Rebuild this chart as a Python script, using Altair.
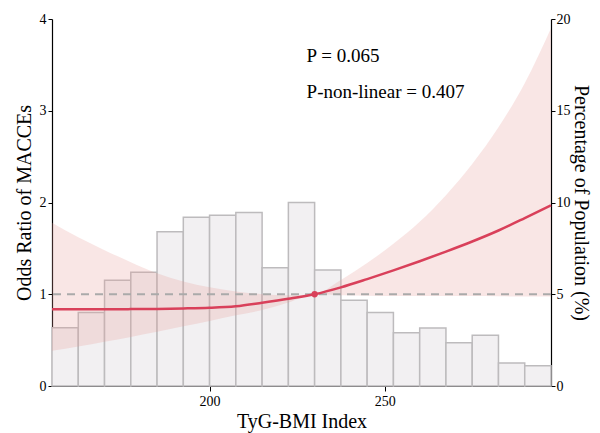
import altair as alt
import pandas as pd

# Histogram (percentage of population), bins of width 7.5 starting at 155
bin_start = [155 + 7.5 * i for i in range(19)]
pct = [3.18, 4.0, 5.76, 6.2, 8.4, 9.2, 9.3, 9.45, 6.45, 10.0,
       6.32, 4.67, 4.0, 2.9, 3.16, 2.36, 2.76, 1.25, 1.1]

# Restricted cubic spline: OR with 95% CI
xs = [155, 162.5, 170, 177.5, 185, 192.5, 200, 207.5, 215, 222.5,
      230, 237.5, 245, 252.5, 260, 267.5, 275, 282.5, 290, 297.5]
odds = [0.836, 0.836, 0.837, 0.838, 0.840, 0.845, 0.853, 0.87, 0.908, 0.95,
        1.0, 1.075, 1.165, 1.26, 1.36, 1.465, 1.575, 1.695, 1.83, 1.97]
upper = [1.78, 1.62, 1.48, 1.35, 1.23, 1.14, 1.076, 1.03, 1.0, 0.99,
         1.0, 1.155, 1.34, 1.55, 1.79, 2.08, 2.42, 2.82, 3.3, 3.9]
lower = [0.385, 0.43, 0.483, 0.535, 0.59, 0.65, 0.708, 0.77, 0.828, 0.91,
         1.0, 0.99, 0.985, 0.98, 0.98, 0.98, 0.98, 0.978, 0.975, 0.975]

ref_x = [230]
ref_y = [1.0]

ann_x = [227.7, 227.7]
ann_y = [3.6, 3.2]
ann_text = ["P = 0.065", "P-non-linear = 0.407"]

FONT = "Liberation Serif, Times New Roman, Times, DejaVu Serif, serif"

hist = pd.DataFrame({"start": bin_start,
                     "end": [s + 7.5 for s in bin_start],
                     "pct": pct,
                     "base": [0] * len(pct)})
curve = pd.DataFrame({"x": xs, "or": odds, "lo": lower, "hi": upper})
ref = pd.DataFrame({"x": ref_x, "y": ref_y})
ann = pd.DataFrame({"x": ann_x, "y": ann_y, "t": ann_text})

xscale = alt.Scale(domain=[155, 297.5], nice=False, zero=False)
xaxis = alt.Axis(values=[200, 250], title="TyG-BMI Index", tickSize=5,
                 titlePadding=3, labelPadding=3, format="d")
yscale = alt.Scale(domain=[0, 4], nice=False)

bars = alt.Chart(hist).mark_bar(
    fill="#f2f0f2", stroke="#bdbbbd", strokeWidth=1.5
).encode(
    x=alt.X("start:Q", scale=xscale, axis=xaxis),
    x2="end:Q",
    y=alt.Y("pct:Q", scale=alt.Scale(domain=[0, 20], nice=False),
            axis=alt.Axis(orient="right", values=[0, 5, 10, 15, 20],
                          title="Percentage of Population (%)", format="d",
                          tickSize=4, labelPadding=1, titlePadding=0)),
    y2="base:Q",
)

band = alt.Chart(curve).mark_area(
    color="#e89a98", opacity=0.25, interpolate="monotone"
).encode(
    x=alt.X("x:Q", scale=xscale, axis=xaxis),
    y=alt.Y("lo:Q", scale=yscale,
            axis=alt.Axis(orient="left", values=[0, 1, 2, 3, 4], format="d",
                          title="Odds Ratio of MACCEs", tickSize=4,
                          labelPadding=2, titlePadding=5)),
    y2="hi:Q",
)

rule = alt.Chart(ref).mark_rule(
    color="#aaaaaa", strokeWidth=2, strokeDash=[8, 6]
).encode(y=alt.Y("y:Q", scale=yscale))

line = alt.Chart(curve).mark_line(
    color="#d9405a", strokeWidth=2.5, interpolate="monotone"
).encode(
    x=alt.X("x:Q", scale=xscale),
    y=alt.Y("or:Q", scale=yscale),
)

point = alt.Chart(ref).mark_point(
    filled=True, color="#d9405a", size=40, opacity=1
).encode(
    x=alt.X("x:Q", scale=xscale),
    y=alt.Y("y:Q", scale=yscale),
)

text = alt.Chart(ann).mark_text(
    align="left", baseline="middle", font=FONT, fontSize=19, color="#000000"
).encode(
    x=alt.X("x:Q", scale=xscale),
    y=alt.Y("y:Q", scale=yscale),
    text="t:N",
)

left = alt.layer(band, rule, line, point, text)

chart = alt.layer(bars, left).resolve_scale(y="independent").properties(
    width=499, height=367,
    autosize=alt.AutoSizeParams(type="none"),
    padding={"left": 44, "top": 11, "right": 41, "bottom": 47},
).configure_view(stroke=None).configure_axis(
    grid=False,
    domainColor="#000000", domainWidth=1.2,
    tickColor="#000000",
    labelColor="#000000", labelFont=FONT, labelFontSize=14,
    titleColor="#000000", titleFont=FONT, titleFontSize=20,
    titleFontWeight="normal",
).configure_text(font=FONT)

chart.save("out.html", embed_options={"renderer": "svg", "actions": False})
